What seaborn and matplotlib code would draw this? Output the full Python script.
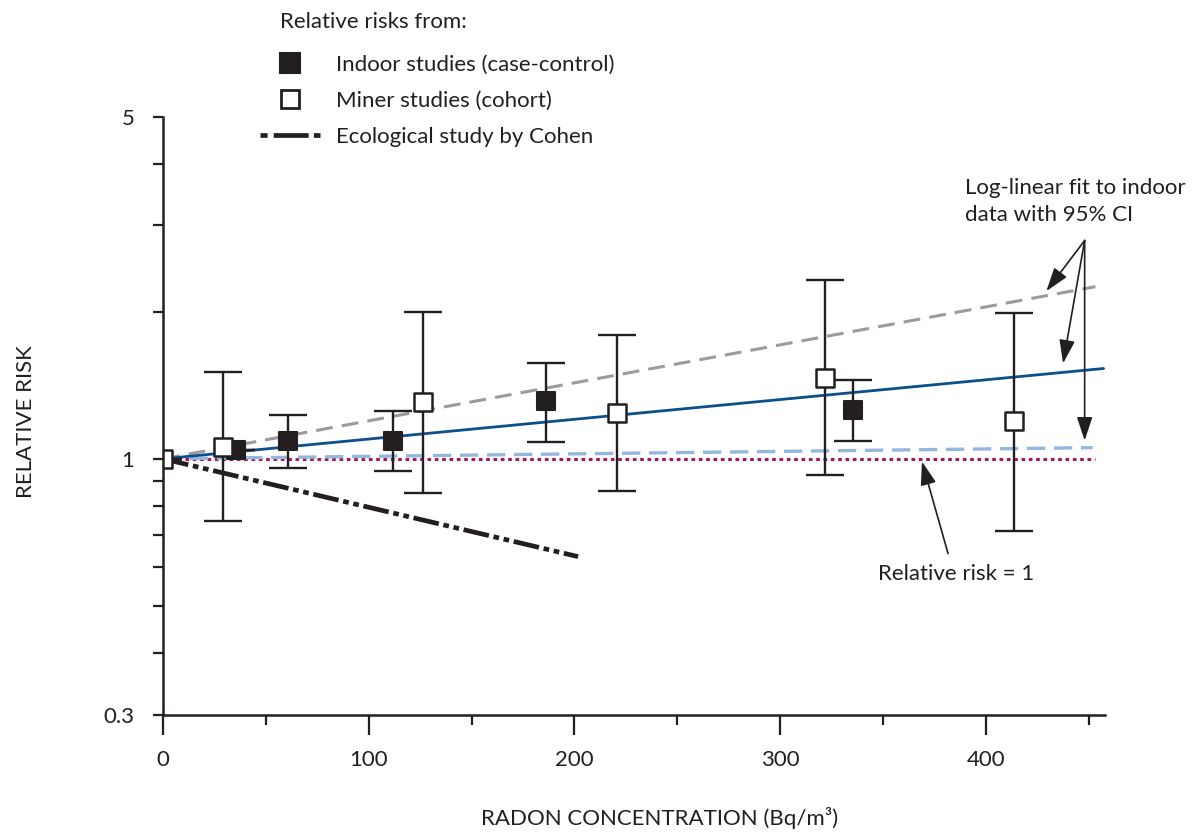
"""Relative risk of lung cancer vs. residential radon concentration."""

import matplotlib
matplotlib.use("Agg")

import matplotlib.pyplot as plt
import numpy as np
import seaborn as sns
from matplotlib.lines import Line2D
from matplotlib.ticker import FixedLocator, NullFormatter, FixedFormatter

# --- data -----------------------------------------------------------------
indoor_x = [35.5, 60.6, 112.0, 186.1, 335.7]
indoor_rr = [1.043, 1.090, 1.090, 1.311, 1.259]
indoor_lo = [1.043, 0.958, 0.942, 1.081, 1.087]
indoor_hi = [1.043, 1.231, 1.251, 1.571, 1.449]

miner_x = [0.0, 29.3, 126.6, 220.7, 322.0, 413.9]
miner_rr = [1.0, 1.056, 1.305, 1.239, 1.462, 1.194]
miner_lo = [1.0, 0.745, 0.851, 0.861, 0.925, 0.713]
miner_hi = [1.0, 1.502, 1.996, 1.789, 2.317, 1.984]

cohen_x = [0.0, 201.8]
cohen_rr = [1.0, 0.631]

fit_x = [0.0, 457.3]
fit_rr = [1.0, 1.530]
ci_upper_x = [0.0, 453.3]
ci_upper_rr = [1.0, 2.249]
ci_lower_x = [0.0, 452.0]
ci_lower_rr = [1.0, 1.054]
ref_x = [0.0, 453.3]
ref_rr = [1.0, 1.0]

y_major = [0.3, 1, 5]
y_minor = [0.4, 0.5, 0.6, 0.7, 0.8, 0.9, 2, 3, 4]
x_major = [0, 100, 200, 300, 400]
x_minor = [50, 150, 250, 350, 450]

INK = "#231f20"
FIT_BLUE = "#0b4f8c"
CI_GREY = "#9b9b9b"
CI_LIGHT = "#93b7de"
REF_RED = "#a3195b"

sns.set_theme(style="ticks")
plt.rcParams["font.family"] = ["Lato", "DejaVu Sans"]
FS = 16

fig = plt.figure(figsize=(11.95, 8.32), dpi=100)
ax = fig.add_axes([0.1364, 0.1412, 0.7883, 0.7182])
ax.set_yscale("log")

# fit lines and reference
sns.lineplot(x=ref_x, y=ref_rr, ax=ax, color=REF_RED, lw=2.2,
             linestyle=(0, (1.2, 1.2)), zorder=2)
sns.lineplot(x=ci_lower_x, y=ci_lower_rr, ax=ax, color=CI_LIGHT, lw=2.4,
             linestyle=(0, (5.5, 2.6)), zorder=2)
sns.lineplot(x=ci_upper_x, y=ci_upper_rr, ax=ax, color=CI_GREY, lw=2.2,
             linestyle=(0, (5.5, 3.0)), zorder=2)
sns.lineplot(x=fit_x, y=fit_rr, ax=ax, color=FIT_BLUE, lw=2.0, zorder=2)
sns.lineplot(x=cohen_x, y=cohen_rr, ax=ax, color=INK, lw=3.4,
             linestyle=(0, (5.5, 1.0, 1.2, 1.0, 1.2, 1.0)), zorder=2)

# error bars
ind_x = np.array(indoor_x)
ind_y = np.array(indoor_rr)
ax.errorbar(ind_x, ind_y, yerr=[ind_y - np.array(indoor_lo), np.array(indoor_hi) - ind_y],
            fmt="none", ecolor=INK, elinewidth=1.7, capsize=14, capthick=1.7, zorder=3)
min_x = np.array(miner_x)
min_y = np.array(miner_rr)
ax.errorbar(min_x, min_y, yerr=[min_y - np.array(miner_lo), np.array(miner_hi) - min_y],
            fmt="none", ecolor=INK, elinewidth=1.7, capsize=14, capthick=1.7, zorder=5)

# markers
sns.scatterplot(x=indoor_x, y=indoor_rr, ax=ax, marker="s", s=175, color=INK,
                edgecolor=INK, linewidth=1.5, zorder=4)
sns.scatterplot(x=miner_x, y=miner_rr, ax=ax, marker="s", s=175, color="white",
                edgecolor=INK, linewidth=1.8, zorder=6)

# axes
ax.set_xlim(0, 458)
ax.set_ylim(0.3, 5)
ax.yaxis.set_major_locator(FixedLocator(y_major))
ax.yaxis.set_major_formatter(FixedFormatter(["0.3", "1", "5"]))
ax.yaxis.set_minor_locator(FixedLocator(y_minor))
ax.yaxis.set_minor_formatter(NullFormatter())
ax.xaxis.set_major_locator(FixedLocator(x_major))
ax.xaxis.set_minor_locator(FixedLocator(x_minor))

sns.despine(ax=ax)
for side in ("left", "bottom"):
    ax.spines[side].set_linewidth(1.8)
    ax.spines[side].set_color(INK)
    ax.spines[side].set_zorder(7)
ax.tick_params(axis="y", which="both", direction="out", length=7.5, width=1.6,
               color=INK, labelsize=FS, labelcolor=INK, pad=13)
ax.tick_params(axis="x", which="major", direction="out", length=14.5, width=1.6,
               color=INK, labelsize=FS, labelcolor=INK, pad=11)
ax.tick_params(axis="x", which="minor", direction="out", length=7.5, width=1.6, color=INK)

ax.set_xlabel("RADON CONCENTRATION (Bq/m³)", fontsize=FS, color=INK)
ax.xaxis.set_label_coords(0.5276, -0.155)
ax.set_ylabel("RELATIVE RISK", fontsize=FS, color=INK)
ax.yaxis.set_label_coords(-0.135, 0.49)

# annotations
arrow_kw = dict(arrowstyle="-|>,head_length=0.72,head_width=0.24", lw=1.2,
                color=INK, shrinkA=0, shrinkB=0, mutation_scale=20)
apex = (448.1, 2.795)
for end in [(429.5, 2.203), (437.6, 1.567), (448.1, 1.090)]:
    ax.annotate("", xy=end, xytext=apex, arrowprops=arrow_kw, annotation_clip=False)
ax.text(390.1, 3.36, "Log-linear fit to indoor\ndata with 95% CI", fontsize=FS,
        color=INK, ha="left", va="center", linespacing=1.4)

ax.annotate("", xy=(369.0, 0.987), xytext=(381.7, 0.640), arrowprops=arrow_kw)
ax.text(385.7, 0.582, "Relative risk = 1", fontsize=FS, color=INK, ha="center", va="center")

# legend
handles = [
    Line2D([], [], marker="s", ls="none", ms=14, mfc=INK, mec=INK, mew=1.5),
    Line2D([], [], marker="s", ls="none", ms=13, mfc="white", mec=INK, mew=2.0),
    Line2D([], [], color=INK, lw=3.4, linestyle=(0, (1.5, 1.3, 7.4, 1.1, 1.5, 6.0))),
]
labels = ["Indoor studies (case-control)", "Miner studies (cohort)", "Ecological study by Cohen"]
ax.legend(handles, labels, loc="upper left", bbox_to_anchor=(260 / 1195, 1 - 55 / 832),
          bbox_transform=fig.transFigure, frameon=False, fontsize=FS, borderpad=0,
          borderaxespad=0, handlelength=2.7, handletextpad=0.72, labelspacing=0.72,
          labelcolor=INK)
fig.text(280 / 1195, 1 - 22 / 832, "Relative risks from:", fontsize=FS, color=INK,
         ha="left", va="center")

plt.savefig("out.png", dpi=100)
plt.close()
